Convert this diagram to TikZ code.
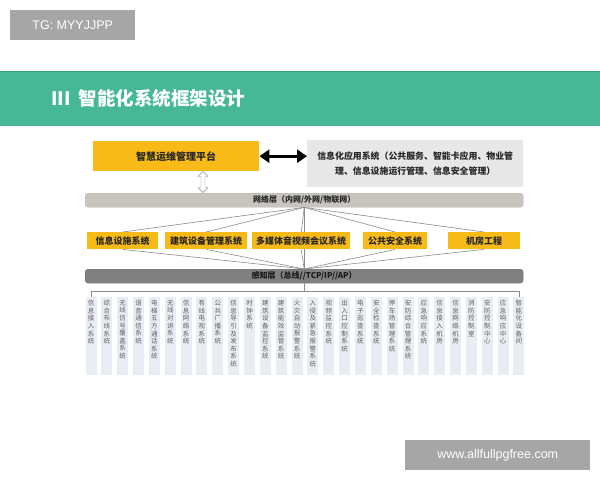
\documentclass[tikz,border=0pt]{standalone}
\usepackage{fontspec}
\setmainfont{Liberation Sans}
\newfontfamily\cjk{Noto Sans CJK SC}
\usetikzlibrary{arrows.meta,shapes.arrows}
\definecolor{mygreen}{RGB}{70,184,150}
\definecolor{mygreendark}{RGB}{52,160,128}
\definecolor{myyellow}{RGB}{247,186,22}
\definecolor{appgray}{RGB}{231,231,231}
\definecolor{netgray}{RGB}{200,197,190}
\definecolor{sensegray}{RGB}{128,128,128}
\definecolor{colfill}{RGB}{233,236,243}
\definecolor{wmgray}{RGB}{166,166,166}
\definecolor{linegray}{RGB}{140,140,140}
\begin{document}
\begin{tikzpicture}[x=1pt,y=-1pt,
  wm/.style={fill=wmgray,text=white,inner sep=0pt,font=\fontsize{12.5}{14}\selectfont},
  ybox/.style={fill=myyellow,inner sep=0pt,text=black!85,font=\cjk\bfseries\fontsize{9}{10}\selectfont},
  bar/.style={inner sep=0pt,rounded corners=3pt,font=\cjk\bfseries\fontsize{8}{9}\selectfont,text=black!85},
  conn/.style={draw=linegray,line width=0.6pt},
  colbox/.style={fill=colfill,draw=none},
  coltext/.style={anchor=north,align=center,inner sep=0pt,text=black!62,font=\cjk\fontsize{6.5}{7.6}\selectfont}
]
\useasboundingbox (0,0) rectangle (600,480);
\fill[white] (0,0) rectangle (600,480);

% watermarks
\node[wm,minimum width=125pt,minimum height=30pt,anchor=north west] (wm1) at (10,10) {TG: MYYJJPP};
\node[wm,minimum width=185pt,minimum height=30pt,anchor=north west] (wm2) at (405,440) {www.allfullpgfree.com};

% header band
\fill[mygreen] (0,71) rectangle (600,126);
\draw[mygreendark,line width=1pt] (0,71.5) -- (600,71.5);
\node[anchor=west,text=white,inner sep=0pt,font=\cjk\bfseries\fontsize{18.5}{20}\selectfont] (title) at (51,98) {III\hspace{8pt}智能化系统框架设计};

% top row
\node[ybox,minimum width=166pt,minimum height=30pt,anchor=north west,font=\cjk\bfseries\fontsize{10}{11}\selectfont] (plat) at (93,141) {智慧运维管理平台};
\node[fill=appgray,inner sep=0pt,minimum width=216pt,minimum height=47pt,anchor=north west,align=center,text=black!85,font=\cjk\bfseries\fontsize{8.9}{15}\selectfont] (app) at (307,140) {信息化应用系统（公共服务、智能卡应用、物业管\\理、信息设施运行管理、信息安全管理）};
\draw[line width=3.4pt,{Triangle[width=13pt,length=10pt]}-{Triangle[width=13pt,length=10pt]}] (plat.east) -- (plat.east -| app.west);

% network layer
\node[bar,fill=netgray,draw=black!30,minimum width=438pt,minimum height=14pt,anchor=north west] (net) at (85,193) {网络层（内网/外网/物联网）};
\node[double arrow,draw=black!45,fill=white,shape border rotate=90,minimum width=10pt,minimum height=21pt,inner sep=1.5pt,double arrow head extend=2.5pt,double arrow head indent=0pt] (harrow) at (203,182) {};

% sensing layer
\node[bar,fill=sensegray,draw=black!55,minimum width=438pt,minimum height=14pt,anchor=north west,text=black!90] (sense) at (85,269) {感知层（总线//TCP/IP//AP）};

% vertical spine
\draw[conn] (net.south) -- (sense.north);

% second row boxes
\node[ybox,minimum width=71pt,minimum height=17pt,anchor=north west] (infra) at (87,232) {信息设施系统};
\node[ybox,minimum width=82pt,minimum height=17pt,anchor=north west] (bldg) at (165,232) {建筑设备管理系统};
\node[ybox,minimum width=98pt,minimum height=17pt,anchor=north west] (media) at (252,232) {多媒体音视频会议系统};
\node[ybox,minimum width=64pt,minimum height=17pt,anchor=north west] (safe) at (363,232) {公共安全系统};
\node[ybox,minimum width=72pt,minimum height=17pt,anchor=north west] (room) at (448,232) {机房工程};

\foreach \b in {infra,bldg,media,safe,room}{
  \draw[conn] (net.south) -- (\b.north);
  \draw[conn] (\b.south) -- (sense.north);
}
% redraw boxes above lines
\node[ybox,minimum width=71pt,minimum height=17pt,anchor=north west] at (87,232) {信息设施系统};
\node[ybox,minimum width=82pt,minimum height=17pt,anchor=north west] at (165,232) {建筑设备管理系统};
\node[ybox,minimum width=98pt,minimum height=17pt,anchor=north west] at (252,232) {多媒体音视频会议系统};
\node[ybox,minimum width=64pt,minimum height=17pt,anchor=north west] at (363,232) {公共安全系统};
\node[ybox,minimum width=72pt,minimum height=17pt,anchor=north west] at (448,232) {机房工程};

% columns
\foreach \t [count=\i] in {
 {信\\息\\接\\入\\系\\统},
 {综\\合\\布\\线\\系\\统},
 {无\\线\\信\\号\\覆\\盖\\系\\统},
 {语\\音\\通\\信\\系\\统},
 {电\\梯\\五\\方\\通\\话\\系\\统},
 {无\\线\\对\\讲\\系\\统},
 {信\\息\\网\\络\\系\\统},
 {有\\线\\电\\视\\系\\统},
 {公\\共\\广\\播\\系\\统},
 {信\\息\\导\\引\\及\\发\\布\\系\\统},
 {时\\钟\\系\\统},
 {建\\筑\\设\\备\\监\\控\\系\\统},
 {建\\筑\\能\\效\\监\\管\\系\\统},
 {火\\灾\\自\\动\\报\\警\\系\\统},
 {入\\侵\\及\\紧\\急\\报\\警\\系\\统},
 {视\\频\\监\\控\\系\\统},
 {出\\入\\口\\控\\制\\系\\统},
 {电\\子\\巡\\查\\系\\统},
 {安\\全\\检\\查\\系\\统},
 {停\\车\\场\\管\\理\\系\\统},
 {安\\防\\综\\合\\管\\理\\系\\统},
 {应\\急\\响\\应\\系\\统},
 {信\\息\\接\\入\\机\\房},
 {信\\息\\网\\络\\机\\房},
 {消\\防\\控\\制\\室},
 {安\\防\\控\\制\\中\\心},
 {应\\急\\响\\应\\中\\心},
 {智\\能\\化\\设\\备\\间}}{
  \pgfmathsetmacro{\cx}{91+(\i-1)*15.85}
  \fill[colfill] (\cx-5.5,297) rectangle (\cx+5.5,375);
  \node[coltext] (col\i) at (\cx,300) {\t};
  \coordinate (ct\i) at (\cx,297);
}

% bracket
\coordinate (brk) at (sense.south |- 0,291);
\draw[conn] (sense.south) -- (brk);
\draw[conn] (ct1) -- (ct1 |- brk) -- (ct28 |- brk) -- (ct28);
\end{tikzpicture}
\end{document}
